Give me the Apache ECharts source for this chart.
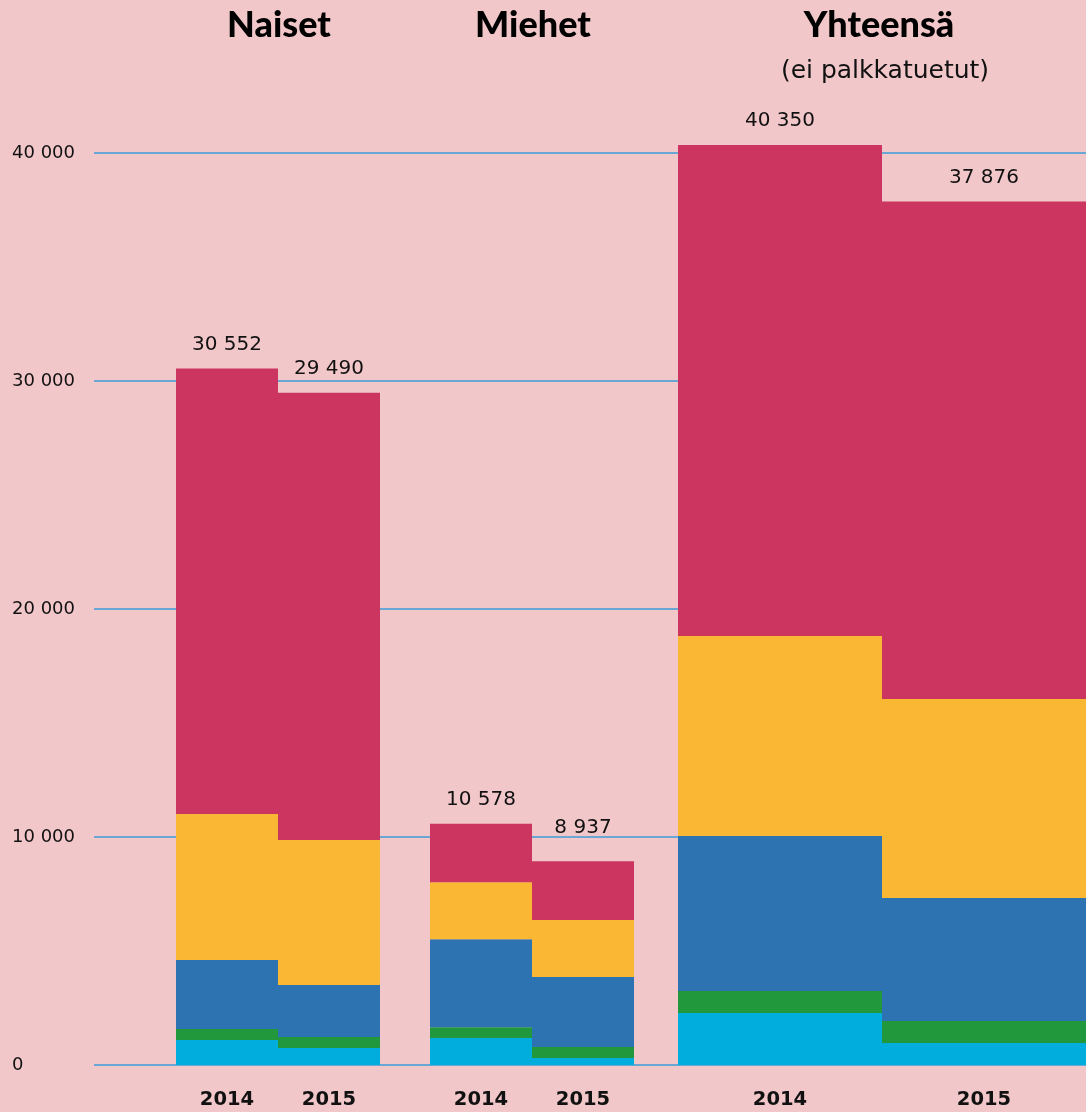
<!DOCTYPE html>
<html><head><meta charset="utf-8">
<script src="https://cdn.jsdelivr.net/npm/echarts@6/dist/echarts.min.js"></script>
<style>html,body{margin:0;padding:0;background:#F2C7C9}#c{width:1086px;height:1112px}</style>
</head><body><div id="c"></div>
<script>
// Data (order of values: Naiset 2014, Naiset 2015, Miehet 2014, Miehet 2015, Yhteensä 2014, Yhteensä 2015)
const groups = ['Naiset', 'Miehet', 'Yhteensä'];
const groupSub = ['', '', '(ei palkkatuetut)'];
const years = ['2014', '2015'];
const totals = [30552, 29490, 10578, 8937, 40350, 37876];
const cyanVals = [1100, 750, 1180, 310, 2280, 965];
const greenVals = [480, 480, 480, 480, 965, 965];
const blueVals = [3025, 2280, 3860, 3070, 6800, 5395];
const yellowVals = [6400, 6360, 2500, 2500, 8770, 8730];
const redVals = totals.map((t, i) => t - cyanVals[i] - greenVals[i] - blueVals[i] - yellowVals[i]);
const yTicks = [0, 10000, 20000, 30000, 40000];

const segments = [
  { name: 'cyan', vals: cyanVals, color: '#00ADDC' },
  { name: 'green', vals: greenVals, color: '#22983C' },
  { name: 'blue', vals: blueVals, color: '#2E73B1' },
  { name: 'yellow', vals: yellowVals, color: '#F9B734' },
  { name: 'red', vals: redVals, color: '#CC355F' }
];

const fmt = n => String(n).replace(/\B(?=(\d{3})+(?!\d))/g, ' ');
const NUMFONT = 'DejaVu Sans';
const TITLEFONT = 'Lato';
const TOP = 153, BOTTOM = 47;

const chart = echarts.init(document.getElementById('c'));

const grid = [
  { left: 94, right: 0, top: TOP, bottom: BOTTOM },
  { left: 176, width: 204, top: TOP, bottom: BOTTOM },
  { left: 430, width: 204, top: TOP, bottom: BOTTOM },
  { left: 678, width: 408, top: TOP, bottom: BOTTOM }
];

const xAxis = [{ type: 'category', gridIndex: 0, data: [''], show: false }];
const yAxis = [{
  type: 'value', gridIndex: 0, min: yTicks[0], max: yTicks[yTicks.length - 1], interval: 10000,
  axisLine: { show: false }, axisTick: { show: false },
  splitLine: { lineStyle: { color: '#3E9DD8', width: 1.5 } },
  axisLabel: { align: 'left', margin: 82, fontFamily: NUMFONT, fontSize: 18, color: '#111', formatter: v => fmt(v) }
}];
for (let g = 0; g < 3; g++) {
  xAxis.push({
    type: 'category', gridIndex: g + 1, data: years,
    axisLine: { show: false }, axisTick: { show: false },
    axisLabel: { margin: 25, fontFamily: NUMFONT, fontWeight: 'bold', fontSize: 19.5, color: '#111' }
  });
  yAxis.push({
    type: 'value', gridIndex: g + 1, min: yTicks[0], max: yTicks[yTicks.length - 1],
    show: false, splitLine: { show: false }
  });
}

const series = [];
for (let g = 0; g < 3; g++) {
  segments.forEach((s, si) => {
    const isTop = si === segments.length - 1;
    const data = [0, 1].map(k => {
      const item = { value: s.vals[2 * g + k] };
      // the "8 937" label sits higher in the original, above the 10 000 gridline
      if (isTop && g === 1 && k === 1) item.label = { distance: 23 };
      return item;
    });
    series.push({
      type: 'bar', name: s.name, xAxisIndex: g + 1, yAxisIndex: g + 1,
      stack: 'g' + g, barCategoryGap: '0%', barGap: '0%', clip: false,
      data,
      itemStyle: { color: s.color },
      emphasis: { disabled: true },
      label: isTop ? {
        show: true, position: 'top', distance: 14,
        fontFamily: NUMFONT, fontSize: 20, color: '#111',
        formatter: p => fmt(totals[2 * g + p.dataIndex])
      } : { show: false }
    });
  });
}

const titleCenters = [274, 528, 874];
const title = groups.map((t, i) => ({
  text: t, left: titleCenters[i], top: 2, textAlign: 'center',
  textStyle: { fontFamily: TITLEFONT, fontWeight: 900, fontSize: 36, color: '#000' }
}));
title.push({
  text: groupSub[2], left: 880, top: 54, textAlign: 'center',
  textStyle: { fontFamily: NUMFONT, fontWeight: 'normal', fontSize: 25, color: '#111' }
});

chart.setOption({
  backgroundColor: '#F2C7C9',
  animation: false,
  title, grid, xAxis, yAxis, series
});
</script></body></html>
